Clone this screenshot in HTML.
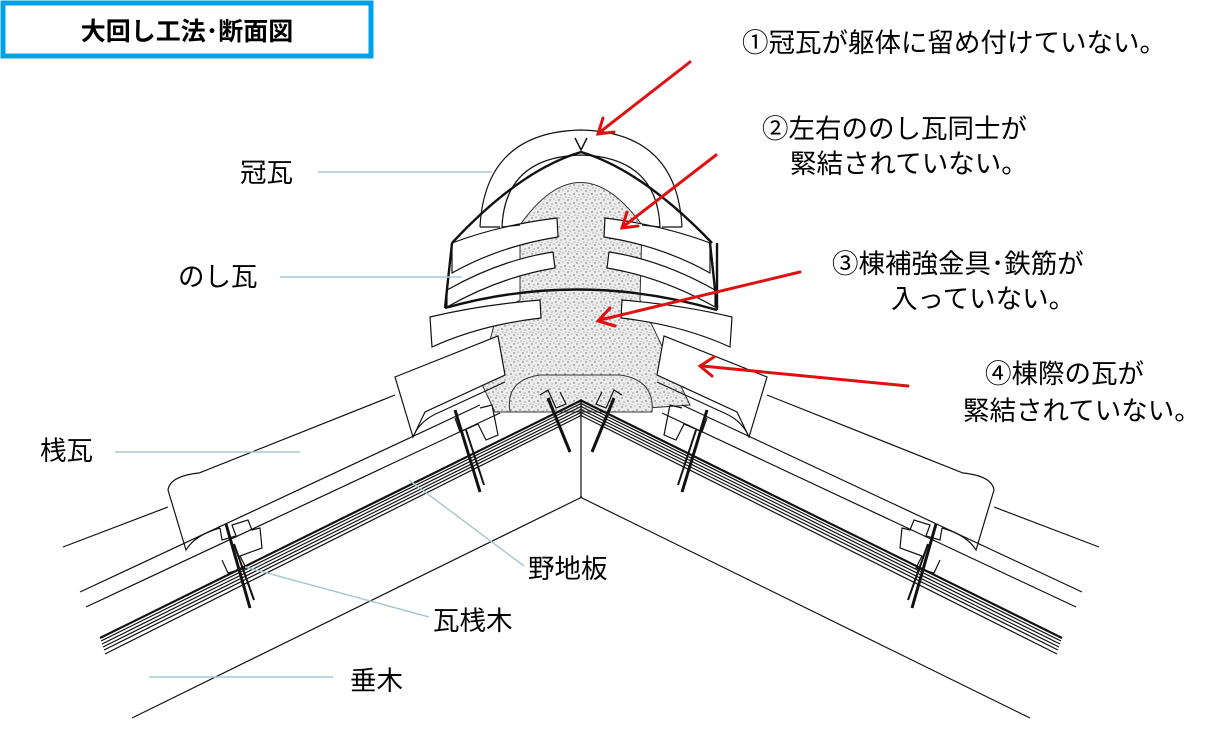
<!DOCTYPE html>
<html><head><meta charset="utf-8"><style>
html,body{margin:0;padding:0;background:#fff;}
svg{display:block;}
text{font-family:"Liberation Sans","Noto Sans CJK JP",sans-serif;fill:#000;}
</style></head><body>
<svg width="1212" height="747" viewBox="0 0 1212 747" xmlns="http://www.w3.org/2000/svg">
<defs>
<pattern id="sp" width="9" height="9" patternUnits="userSpaceOnUse">
<rect width="9" height="9" fill="#ececec"/>
<circle cx="1" cy="2" r="0.7" fill="#666"/><circle cx="5" cy="1" r="0.6" fill="#888"/>
<circle cx="7" cy="5" r="0.7" fill="#555"/><circle cx="3" cy="6" r="0.6" fill="#777"/>
<circle cx="8" cy="8" r="0.5" fill="#666"/><circle cx="2" cy="8.5" r="0.5" fill="#888"/>
</pattern>
<g id="half" fill="none" stroke="#111" stroke-width="1.2">
  <line x1="132" y1="718" x2="582" y2="497"/>
  <line x1="100" y1="638" x2="582" y2="400" stroke-width="2.2"/>
  <line x1="101" y1="641" x2="582" y2="403"/>
  <line x1="102" y1="644" x2="582" y2="406"/>
  <line x1="103" y1="647" x2="582" y2="409"/>
  <line x1="104" y1="650" x2="582" y2="412"/>
  <line x1="105" y1="654" x2="582" y2="415"/>
  <line x1="80" y1="592" x2="480" y2="405"/>
  <line x1="86" y1="607" x2="500" y2="413"/>
  <line x1="63" y1="547" x2="168" y2="507"/>
  <path d="M168 490 Q170 476 199 473 L395 395" fill="none"/>
  <path d="M168 490 L186 550 Q195 535 220 528"/>
  <path d="M220 528 L222 540 L236 536 L232 525 L248 520 L252 530 L260 528 L262 548 L240 556 L246 568 L228 573 L222 560"/>
  <line x1="226" y1="524" x2="250" y2="608" stroke-width="3"/>
  <line x1="234" y1="544" x2="254" y2="600" stroke-width="2"/>
  <path d="M455 418 L460 432 L478 424 L486 440 L498 435 L492 405 L480 408"/>
  <line x1="455" y1="410" x2="480" y2="492" stroke-width="3"/>
  <line x1="466" y1="430" x2="484" y2="485" stroke-width="2"/>
  <path d="M395 377 L498 336 L505 375 L425 412 L413 437 Z" fill="#fff"/>
  <path d="M413 437 Q420 420 440 412 L505 382"/>
  <path d="M540 395 L548 390 L556 408 L566 404 L560 392"/>
  <line x1="548" y1="398" x2="570" y2="452" stroke-width="3"/>
  <path d="M430 317 Q480 305 540 300 L541 318 Q480 325 432 347 Z" fill="#fff"/>
  <path d="M447 290 Q500 260 553 252 L555 268 Q500 277 447 307 Z" fill="#fff"/>
  <path d="M452 243 Q500 225 557 218 L558 237 Q500 246 452 273 Z" fill="#fff"/>
  <path d="M452 243 L445 308" stroke-width="2.4"/>
  <path d="M480 227 L500 227 M502 227 L520 225"/>
</g>
</defs>

<path d="M520 225 Q580 140 642 225 L640 300 L690 405 L620 410 L590 395 L572 395 L545 412 L495 412 L480 380 L497 313 L520 300 Z" fill="url(#sp)" stroke="#333" stroke-width="1"/>
<path d="M510 412 Q505 380 540 375 L620 375 Q655 380 652 412 Z" fill="url(#sp)" stroke="#333" stroke-width="1"/>

<use href="#half"/>
<use href="#half" transform="matrix(-1,0,0,1,1162,0)"/>
<line x1="581" y1="400" x2="581" y2="497" stroke="#111" stroke-width="1.2"/>

<path d="M480 227 Q485 132 581 130 Q677 132 682 227" fill="none" stroke="#111" stroke-width="1.2"/>
<path d="M502 227 Q505 157 581 155 Q657 157 660 227" fill="none" stroke="#111" stroke-width="1.2"/>
<path d="M452 243 Q520 170 581 152 Q642 170 712 243" fill="none" stroke="#111" stroke-width="2.4"/>
<path d="M717 243 L717 310" stroke="#111" stroke-width="2.4"/>
<path d="M445 308 Q580 270 717 310" fill="none" stroke="#111" stroke-width="2.4"/>
<path d="M575 138 L581 150 L587 138" fill="none" stroke="#111" stroke-width="1.5"/>

<g stroke="#a9c9d1" stroke-width="1.5">
<line x1="318" y1="172" x2="492" y2="172"/>
<line x1="280" y1="277" x2="462" y2="277"/>
<line x1="115" y1="452" x2="300" y2="452"/>
<line x1="409" y1="480" x2="524" y2="566"/>
<line x1="245" y1="567" x2="429" y2="617"/>
<line x1="149" y1="677" x2="333" y2="677"/>
</g>

<g stroke="#e01010" stroke-width="3" fill="none" stroke-linecap="round">
<line x1="690" y1="62" x2="600" y2="132"/><path d="M603 118 L598 134 L614 132"/>
<line x1="716" y1="155" x2="624" y2="226"/><path d="M627 212 L622 228 L638 226"/>
<line x1="800" y1="272" x2="600" y2="320"/><path d="M610 308 L598 321 L615 326"/>
<line x1="908" y1="386" x2="702" y2="366"/><path d="M714 357 L700 366 L712 376"/>
</g>

<rect x="3" y="3" width="368" height="53" fill="#fff" stroke="#00a0e9" stroke-width="5"/>
<text x="187" y="40" font-size="25" font-weight="bold" text-anchor="middle">大回し工法･断面図</text>

<g font-size="26.5">
<text x="742" y="52">①冠瓦が躯体に留め付けていない。</text>
<text x="762" y="138">②左右ののし瓦同士が</text>
<text x="790" y="173">緊結されていない。</text>
<text x="832" y="273">③棟補強金具･鉄筋が</text>
<text x="891" y="308">入っていない。</text>
<text x="985" y="383">④棟際の瓦が</text>
<text x="963" y="420">緊結されていない。</text>
<text x="240" y="182">冠瓦</text>
<text x="178" y="286">のし瓦</text>
<text x="40" y="460">桟瓦</text>
<text x="528" y="578">野地板</text>
<text x="433" y="630">瓦桟木</text>
<text x="350" y="690">垂木</text>
</g>
</svg>
</body></html>
